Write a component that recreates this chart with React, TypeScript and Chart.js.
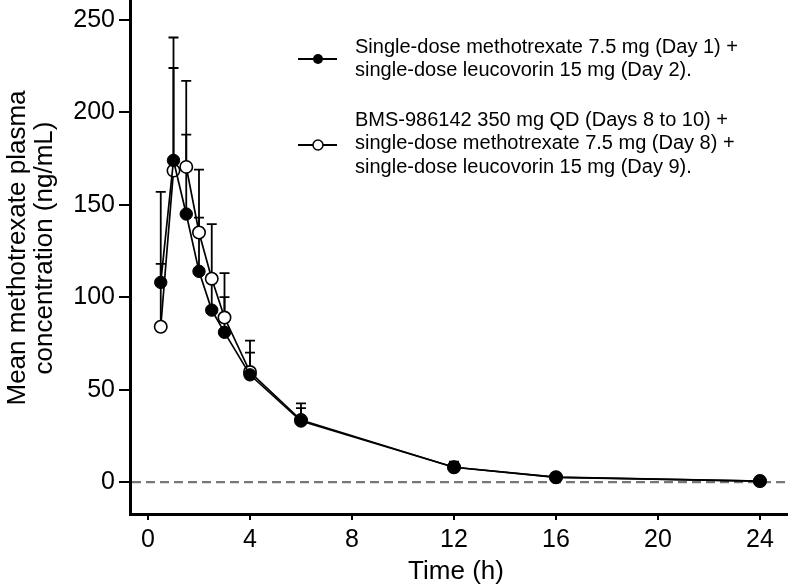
import { useEffect, useRef } from 'react';
import { Chart, registerables } from 'chart.js';

Chart.register(...registerables);

// ---- data ----
const times = [0.5, 1, 1.5, 2, 2.5, 3, 4, 6, 12, 16, 24];
const methotrexateAlone = [108, 174, 145, 114, 93, 81, 58, 33, 8, 2.5, 0.5];
const methotrexateAloneUpper = [118, 224, 188, 143, 112, 100, 70, 40, 10.5, 3.2, 0.8];
const withBMS = [84, 168.5, 170.5, 135, 110, 89, 59.5, 33.5, 8, 2.6, 0.5];
const withBMSUpper = [157, 240.5, 217, 169, 139.5, 113, 76.5, 42.5, 11, 3.4, 0.8];
const xTicks = [0, 4, 8, 12, 16, 20, 24];
const yTicks = [0, 50, 100, 150, 200, 250];

const legendAlone = ['Single-dose methotrexate 7.5 mg (Day 1) +', 'single-dose leucovorin 15 mg (Day 2).'];
const legendBMS = [
  'BMS-986142 350 mg QD (Days 8 to 10) +',
  'single-dose methotrexate 7.5 mg (Day 8) +',
  'single-dose leucovorin 15 mg (Day 9).',
];
const yTitle = ['Mean methotrexate plasma', 'concentration (ng/mL)'];
const xTitle = 'Time (h)';

const FONT = '"Liberation Sans", Arial, Helvetica, sans-serif';

const decorPlugin = {
  id: 'decor',
  beforeDatasetsDraw(chart: any) {
    const { ctx, chartArea, scales } = chart;
    const x = scales.x;
    const y = scales.y;
    ctx.save();
    // dashed zero line
    const y0 = y.getPixelForValue(0);
    ctx.strokeStyle = '#777777';
    ctx.lineWidth = 2.2;
    ctx.setLineDash([9, 5]);
    ctx.beginPath();
    ctx.moveTo(chartArea.left + 2, y0);
    ctx.lineTo(chartArea.right, y0);
    ctx.stroke();
    ctx.setLineDash([]);
    // error bars (upper only)
    const sets = [
      { mean: withBMS, upper: withBMSUpper },
      { mean: methotrexateAlone, upper: methotrexateAloneUpper },
    ];
    ctx.strokeStyle = '#000';
    ctx.lineWidth = 1.8;
    sets.forEach((s) => {
      s.upper.forEach((u, i) => {
        const px = x.getPixelForValue(times[i]);
        const pm = y.getPixelForValue(s.mean[i]);
        const pu = y.getPixelForValue(u);
        ctx.beginPath();
        ctx.moveTo(px, pm);
        ctx.lineTo(px, pu);
        ctx.moveTo(px - 5, pu);
        ctx.lineTo(px + 5, pu);
        ctx.stroke();
      });
    });
    ctx.restore();
  },
  afterDraw(chart: any) {
    const { ctx } = chart;
    ctx.save();
    ctx.fillStyle = '#000';
    ctx.strokeStyle = '#000';
    // legend
    ctx.font = `20px ${FONT}`;
    ctx.textAlign = 'left';
    ctx.textBaseline = 'middle';
    const drawSample = (cy: number, filled: boolean) => {
      ctx.lineWidth = 2;
      ctx.beginPath();
      ctx.moveTo(298, cy);
      ctx.lineTo(337, cy);
      ctx.stroke();
      ctx.beginPath();
      ctx.arc(318, cy, 5, 0, Math.PI * 2);
      if (filled) {
        ctx.fill();
      } else {
        ctx.fillStyle = '#fff';
        ctx.fill();
        ctx.fillStyle = '#000';
        ctx.lineWidth = 1.5;
        ctx.stroke();
      }
    };
    drawSample(59, true);
    legendAlone.forEach((t, i) => ctx.fillText(t, 355, 47 + i * 23.5));
    drawSample(145, false);
    legendBMS.forEach((t, i) => ctx.fillText(t, 355, 120 + i * 23.5));
    // axis titles
    ctx.font = `26px ${FONT}`;
    ctx.textAlign = 'center';
    ctx.fillText(xTitle, 456, 572);
    ctx.save();
    ctx.translate(31, 248);
    ctx.rotate(-Math.PI / 2);
    yTitle.forEach((t, i) => ctx.fillText(t, 0, -13 + i * 27));
    ctx.restore();
    ctx.restore();
  },
};

export default function App() {
  const ref = useRef<HTMLCanvasElement | null>(null);

  useEffect(() => {
    document.body.style.margin = '0';
    if (!ref.current) return;
    const chart = new Chart(ref.current, {
      type: 'line',
      data: {
        datasets: [
          {
            label: legendAlone.join(' '),
            data: times.map((t, i) => ({ x: t, y: methotrexateAlone[i] })),
            borderColor: '#000',
            borderWidth: 1.7,
            pointRadius: 6.2,
            pointBackgroundColor: '#000',
            pointBorderColor: '#000',
            pointBorderWidth: 1,
            tension: 0,
          },
          {
            label: legendBMS.join(' '),
            data: times.map((t, i) => ({ x: t, y: withBMS[i] })),
            borderColor: '#000',
            borderWidth: 1.7,
            pointRadius: 6.2,
            pointBackgroundColor: '#fff',
            pointBorderColor: '#000',
            pointBorderWidth: 1.6,
            tension: 0,
          },
        ],
      },
      options: {
        animation: false,
        responsive: true,
        maintainAspectRatio: false,
        layout: { padding: 0, autoPadding: false },
        plugins: { legend: { display: false }, tooltip: { enabled: false } },
        scales: {
          x: {
            type: 'linear',
            min: -0.706,
            max: 25.1,
            afterBuildTicks: (s: any) => {
              s.ticks = xTicks.map((v) => ({ value: v }));
            },
            afterFit: (s: any) => {
              s.height = 73;
              s.paddingLeft = 0;
              s.paddingRight = 0;
              s.paddingTop = 0;
              s.paddingBottom = 0;
            },
            ticks: {
              color: '#000',
              font: { family: FONT, size: 25 },
              padding: 5,
              maxRotation: 0,
              autoSkip: false,
            },
            grid: { drawOnChartArea: false, drawTicks: true, tickLength: 6, color: '#000', lineWidth: 2 },
            border: { display: true, color: '#000', width: 3 },
          },
          y: {
            type: 'linear',
            min: -17.3,
            max: 260.8,
            afterBuildTicks: (s: any) => {
              s.ticks = yTicks.map((v) => ({ value: v }));
            },
            afterFit: (s: any) => {
              s.width = 130;
              s.paddingLeft = 0;
              s.paddingRight = 0;
              s.paddingTop = 0;
              s.paddingBottom = 0;
            },
            ticks: {
              color: '#000',
              font: { family: FONT, size: 25 },
              padding: 4,
              autoSkip: false,
            },
            grid: { drawOnChartArea: false, drawTicks: true, tickLength: 11, color: '#000', lineWidth: 2 },
            border: { display: true, color: '#000', width: 3 },
          },
        },
      },
      plugins: [decorPlugin],
    });
    return () => chart.destroy();
  }, []);

  return (
    <div style={{ position: 'absolute', left: 0, top: 0, width: 788, height: 587, background: '#fff' }}>
      <canvas ref={ref} />
    </div>
  );
}
